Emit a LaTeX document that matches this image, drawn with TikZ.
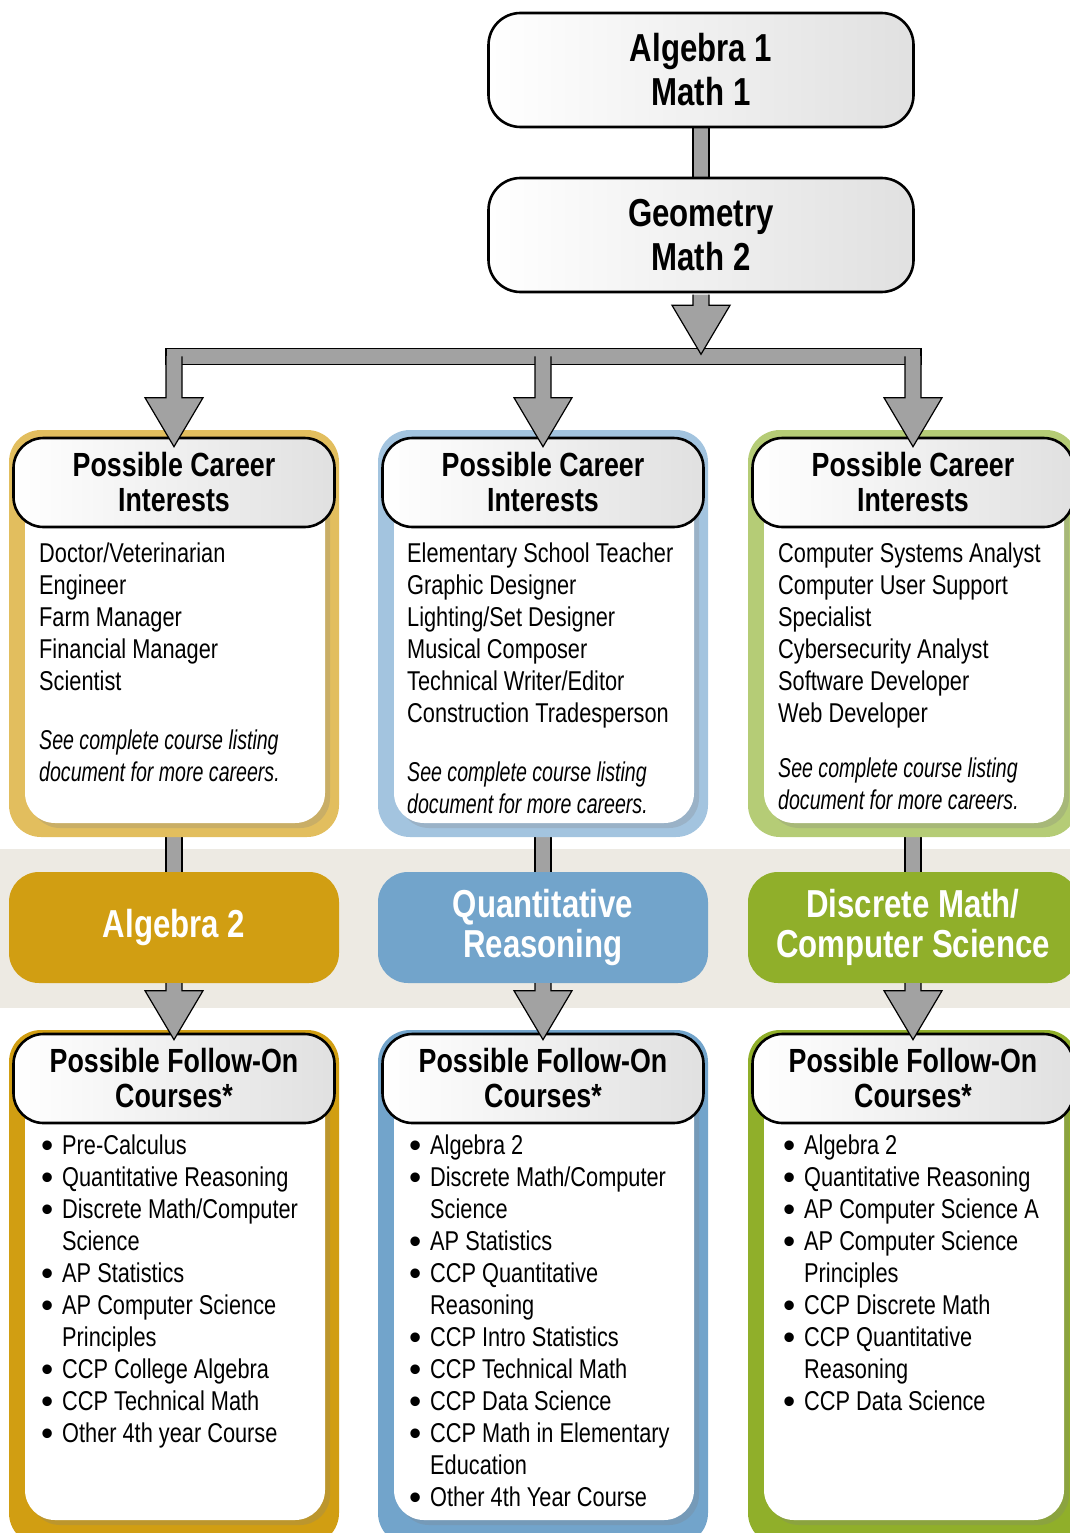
\documentclass[tikz,border=0pt]{standalone}
\usepackage{fontspec}
\setmainfont{Liberation Sans}[FakeStretch=0.8]
\newfontfamily\notefamily{Liberation Sans}[FakeStretch=0.72]
\usetikzlibrary{calc,shadows}
\pgfdeclarelayer{bg}
\pgfsetlayers{bg,main}

\definecolor{goldA}{HTML}{E2BE5E}
\definecolor{goldB}{HTML}{D19E12}
\definecolor{blueA}{HTML}{A3C4DF}
\definecolor{blueB}{HTML}{72A4CB}
\definecolor{greenA}{HTML}{B5CC76}
\definecolor{greenB}{HTML}{90AF2A}
\definecolor{flowgray}{HTML}{A2A2A2}
\definecolor{bandgray}{HTML}{EDEAE3}

\newcommand{\bigfont}{\fontsize{39}{44}\selectfont\bfseries}
\newcommand{\headfont}{\fontsize{33.5}{35}\selectfont\bfseries}
\newcommand{\midfont}{\fontsize{39}{40}\selectfont\bfseries}
\newcommand{\bodyfont}{\fontsize{27.2}{32}\selectfont}
\newcommand{\bul}{\makebox[21pt][l]{\raisebox{-3pt}{\scalebox{1.6}[1.3]{\textbullet}}}}
\newcommand{\ind}{\hspace*{21pt}}
% fat gray arrow: shaft from #1, tip #3 below #2
\newcommand{\fatArrow}[3]{
  \fill[flowgray] ($(#1)+(-8,0)$) -- ($(#2)+(-8,#3-49)$) -- ($(#2)+(-29,#3-49)$) -- ($(#2)+(0,#3)$)
    -- ($(#2)+(29,#3-49)$) -- ($(#2)+(8,#3-49)$) -- ($(#1)+(8,0)$) -- cycle;
  \draw[flow] ($(#1)+(-8,0)$) -- ($(#2)+(-8,#3-49)$) -- ($(#2)+(-29,#3-49)$) -- ($(#2)+(0,#3)$)
    -- ($(#2)+(29,#3-49)$) -- ($(#2)+(8,#3-49)$) -- ($(#1)+(8,0)$);
}
% plain gray bar from #1 down to #2
\newcommand{\fatBar}[2]{
  \fill[flowgray] ($(#1)+(-8,0)$) rectangle ($(#2)+(8,0)$);
  \draw[flow] ($(#1)+(-8,0)$) -- ($(#2)+(-8,0)$) ($(#1)+(8,0)$) -- ($(#2)+(8,0)$);
}

\tikzset{
  flow/.style={draw=black, line width=1.2pt, line join=miter},
  topbox/.style={draw, line width=2.6pt, rounded corners=32pt, left color=white, right color=black!12,
    minimum width=425pt, minimum height=114pt, align=center, font=\bigfont},
  headbox/.style={draw, line width=2.6pt, rounded corners=30pt, left color=white, right color=black!12,
    minimum width=321pt, minimum height=89pt, align=center, font=\headfont},
  panel/.style={rounded corners=32pt, minimum width=330pt, inner sep=0pt},
  inner/.style={fill=white, rounded corners=30pt, minimum width=300pt, inner sep=0pt,
    drop shadow={shadow xshift=5pt, shadow yshift=-5pt, opacity=0.25}},
  midbox/.style={rounded corners=30pt, minimum width=330pt, minimum height=111pt,
    text=white, align=center, font=\midfont},
  list/.style={anchor=north west, inner sep=0pt, align=left, font=\bodyfont},
  note/.style={list, font=\bodyfont\notefamily\itshape},
}

\begin{document}
\begin{tikzpicture}[x=1pt, y=-1pt]
  \useasboundingbox (0,0) rectangle (1070,1533);
  \clip (0,0) rectangle (1070,1533);
  \begin{pgfonlayer}{bg}
    \fill[bandgray] (0,849) rectangle (1070,1008);
  \end{pgfonlayer}

  % Nodes
  \node[topbox] (alg1) at (701,70) {Algebra 1\\Math 1};
  \node[topbox] (geo) at (701,235) {Geometry\\Math 2};

  % career panels
  \node[panel, fill=goldA, minimum height=407pt] (pc1) at (174,633.5) {};
  \node[panel, fill=blueA, minimum height=407pt] (pc2) at (543,633.5) {};
  \node[panel, fill=greenA, minimum height=407pt] (pc3) at (913,633.5) {};
  \node[inner, minimum height=366pt] (wc1) at (175,640) {};
  \node[inner, minimum height=366pt] (wc2) at (544,640) {};
  \node[inner, minimum height=366pt] (wc3) at (914,640) {};
  \node[headbox] (ct1) at (174,482.5) {Possible Career\\Interests};
  \node[headbox] (ct2) at (543,482.5) {Possible Career\\Interests};
  \node[headbox] (ct3) at (913,482.5) {Possible Career\\Interests};
  \node[list] (cl1) at (39,543) {Doctor/Veterinarian\\Engineer\\Farm Manager\\Financial Manager\\Scientist};
  \node[list] (cl2) at (407,543) {Elementary School Teacher\\Graphic Designer\\Lighting/Set Designer\\Musical Composer\\Technical Writer/Editor\\Construction Tradesperson};
  \node[list] (cl3) at (778,543) {Computer Systems Analyst\\Computer User Support\\Specialist\\Cybersecurity Analyst\\Software Developer\\Web Developer};
  \node[note] (cn1) at (39,730) {See complete course listing\\document for more careers.};
  \node[note] (cn2) at (407,762) {See complete course listing\\document for more careers.};
  \node[note] (cn3) at (778,758) {See complete course listing\\document for more careers.};

  % middle row
  \node[midbox, fill=goldB] (m1) at (174,927.5) {Algebra 2};
  \node[midbox, fill=blueB] (m2) at (543,927.5) {Quantitative\\Reasoning};
  \node[midbox, fill=greenB] (m3) at (913,927.5) {Discrete Math/\\Computer Science};

  % follow-on panels
  \node[panel, fill=goldB, minimum height=515pt] (pf1) at (174,1287.5) {};
  \node[panel, fill=blueB, minimum height=515pt] (pf2) at (543,1287.5) {};
  \node[panel, fill=greenB, minimum height=515pt] (pf3) at (913,1287.5) {};
  \node[inner, minimum height=460pt] (wf1) at (175,1290) {};
  \node[inner, minimum height=460pt] (wf2) at (544,1290) {};
  \node[inner, minimum height=460pt] (wf3) at (914,1290) {};
  \node[headbox] (ft1) at (174,1078.5) {Possible Follow-On\\Courses*};
  \node[headbox] (ft2) at (543,1078.5) {Possible Follow-On\\Courses*};
  \node[headbox] (ft3) at (913,1078.5) {Possible Follow-On\\Courses*};
  \node[list] (fl1) at (41,1135) {\bul Pre-Calculus\\\bul Quantitative Reasoning\\\bul Discrete Math/Computer\\\ind Science\\\bul AP Statistics\\\bul AP Computer Science\\\ind Principles\\\bul CCP College Algebra\\\bul CCP Technical Math\\\bul Other 4th year Course};
  \node[list] (fl2) at (409,1135) {\bul Algebra 2\\\bul Discrete Math/Computer\\\ind Science\\\bul AP Statistics\\\bul CCP Quantitative\\\ind Reasoning\\\bul CCP Intro Statistics\\\bul CCP Technical Math\\\bul CCP Data Science\\\bul CCP Math in Elementary\\\ind Education\\\bul Other 4th Year Course};
  \node[list] (fl3) at (783,1135) {\bul Algebra 2\\\bul Quantitative Reasoning\\\bul AP Computer Science A\\\bul AP Computer Science\\\ind Principles\\\bul CCP Discrete Math\\\bul CCP Quantitative\\\ind Reasoning\\\bul CCP Data Science};

  % connectors
  \begin{pgfonlayer}{bg}
    \fatBar{alg1.south}{geo.north}
    \fatBar{pc1.south}{m1.north}
    \fatBar{pc2.south}{m2.north}
    \fatBar{pc3.south}{m3.north}
  \end{pgfonlayer}
  \coordinate (split) at ($(geo.south)+(0,63)$);
  \coordinate (g0) at ($(geo.south)+(0,1.3)$);
  \coordinate (s1) at (ct1.north |- split);
  \coordinate (s2) at (ct2.north |- split);
  \coordinate (s3) at (ct3.north |- split);
  \draw[flow, fill=flowgray] ($(s1)+(-8,-8)$) rectangle ($(s3)+(8,8)$);
  \fatArrow{s1}{ct1.north}{10}
  \fatArrow{s2}{ct2.north}{10}
  \fatArrow{s3}{ct3.north}{10}
  \fatArrow{g0}{split}{-2}
  \fatArrow{m1.south}{ft1.north}{7}
  \fatArrow{m2.south}{ft2.north}{7}
  \fatArrow{m3.south}{ft3.north}{7}

\end{tikzpicture}
\end{document}
